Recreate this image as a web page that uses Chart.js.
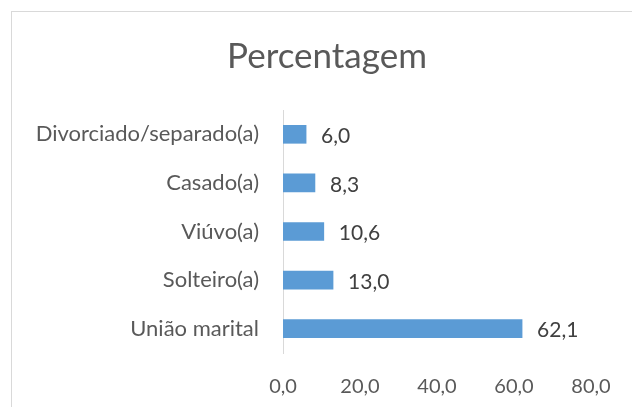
<!DOCTYPE html>
<html lang="pt">
<head>
    <meta charset="UTF-8">
    <title>Percentagem</title>
    <script src="https://cdn.jsdelivr.net/npm/chart.js@4.4.1/dist/chart.umd.min.js"></script>
    <style>
        html, body { margin: 0; padding: 0; background: #fff; }
        body { width: 632px; height: 407px; overflow: hidden; position: relative; }
        .frame { position: absolute; left: 11px; top: 11px; width: 700px; height: 500px; border: 1px solid #d9d9d9; }
        #wrap { position: absolute; left: 0; top: 0; width: 632px; height: 407px; }
    </style>
</head>
<body>
    <div class="frame"></div>
    <div id="wrap"><canvas id="chart" width="632" height="407"></canvas></div>

    <script>
        const categories = ['Divorciado/separado(a)', 'Casado(a)', 'Viúvo(a)', 'Solteiro(a)', 'União marital'];
        const percentages = [6.0, 8.3, 10.6, 13.0, 62.1];
        const xTicks = [0, 20, 40, 60, 80];
        const chartTitle = 'Percentagem';

        const FONT = 'Lato, "Open Sans", sans-serif';
        const fmt = v => v.toFixed(1).replace('.', ',');

        // titulo e rotulos de dados
        const labelsPlugin = {
            id: 'labelsPlugin',
            afterDatasetsDraw(chart) {
                const ctx = chart.ctx;
                ctx.save();
                ctx.fillStyle = '#595959';
                ctx.font = '35px ' + FONT;
                ctx.textAlign = 'center';
                ctx.textBaseline = 'middle';
                ctx.fillText(chartTitle, 327, 57);

                ctx.fillStyle = '#404040';
                ctx.font = '21px ' + FONT;
                ctx.textAlign = 'left';
                const meta = chart.getDatasetMeta(0);
                meta.data.forEach((bar, i) => {
                    ctx.fillText(fmt(percentages[i]), bar.x + 15, bar.y + 2);
                });
                ctx.restore();
            }
        };

        new Chart(document.getElementById('chart'), {
            type: 'bar',
            data: {
                labels: categories,
                datasets: [{
                    data: percentages,
                    backgroundColor: '#5b9bd5',
                    borderWidth: 0,
                    barThickness: 18
                }]
            },
            options: {
                indexAxis: 'y',
                responsive: false,
                animation: false,
                layout: { padding: { top: 110, right: 41, left: 0, bottom: 0 } },
                plugins: {
                    legend: { display: false },
                    title: { display: false },
                    tooltip: { enabled: false }
                },
                scales: {
                    x: {
                        min: 0,
                        max: 80,
                        afterBuildTicks(scale) {
                            scale.ticks = xTicks.map(v => ({ value: v }));
                        },
                        afterFit(scale) { scale.height = 54; },
                        grid: { display: false },
                        border: { display: false },
                        ticks: {
                            padding: 14,
                            color: '#595959',
                            font: { family: FONT, size: 20 },
                            callback: v => fmt(v)
                        }
                    },
                    y: {
                        afterFit(scale) { scale.width = 283; },
                        grid: { display: false },
                        border: { display: true, color: '#d9d9d9', width: 1 },
                        ticks: {
                            padding: 16,
                            color: '#595959',
                            font: { family: FONT, size: 22 }
                        }
                    }
                }
            },
            plugins: [labelsPlugin]
        });
    </script>
</body>
</html>
